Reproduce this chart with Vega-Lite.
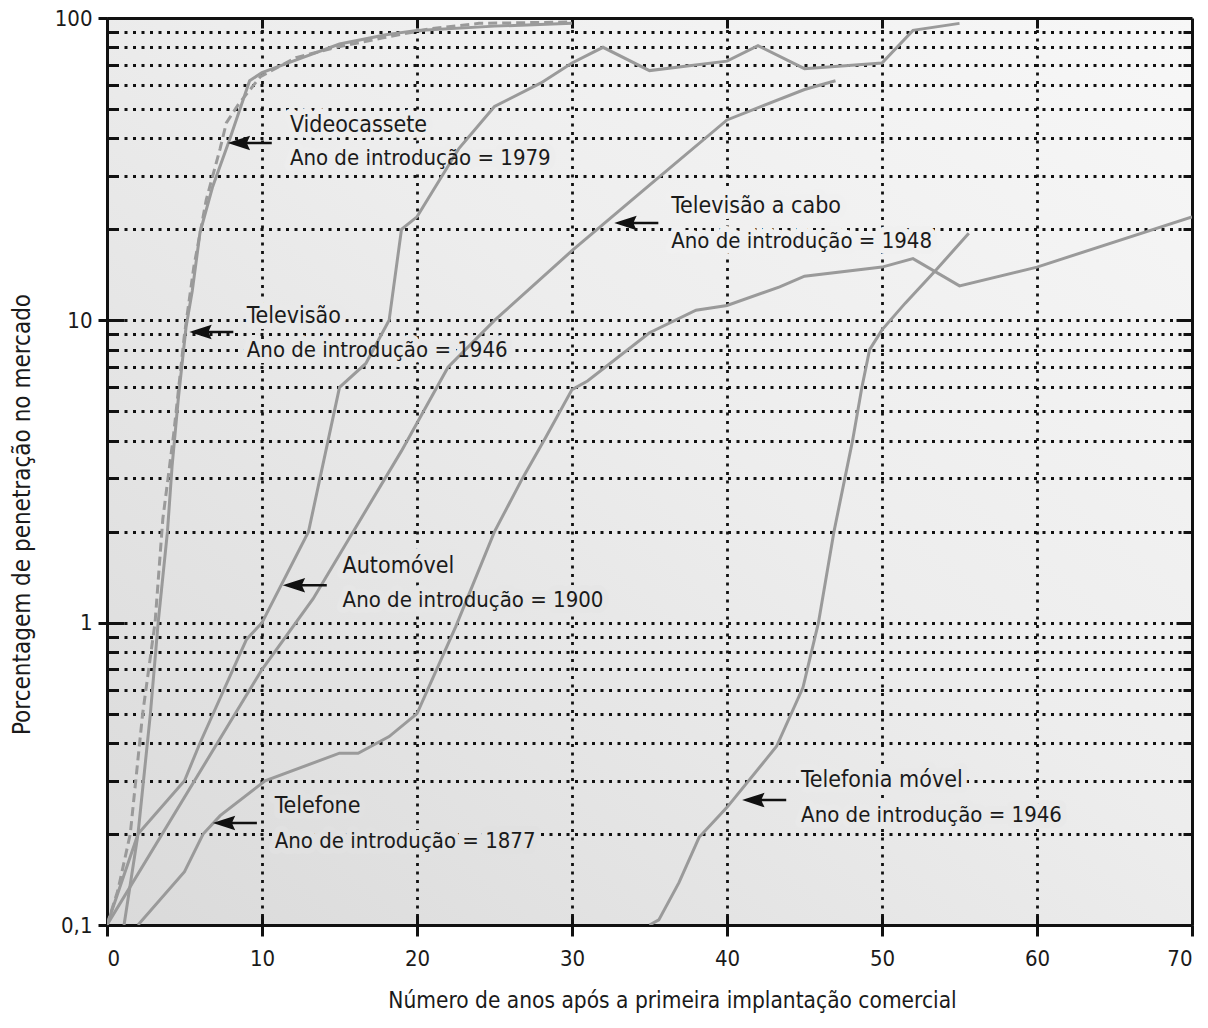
{
  "$schema": "https://vega.github.io/schema/vega-lite/v6.json",
  "width": 1085,
  "height": 907,
  "autosize": {"type": "none"},
  "padding": {"left": 107, "top": 18, "right": 16, "bottom": 103},
  "background": "white",
  "config": {
    "view": {
      "stroke": null,
      "fill": {"gradient": "linear", "x1": 0, "y1": 1, "x2": 1, "y2": 0,
        "stops": [{"offset": 0, "color": "#dadada"}, {"offset": 0.55, "color": "#ededed"}, {"offset": 1, "color": "#f7f7f7"}]}
    },
    "axis": {
      "labelFont": "DejaVu Sans Condensed, Liberation Sans, sans-serif",
      "titleFont": "DejaVu Sans Condensed, Liberation Sans, sans-serif",
      "labelColor": "#1a1a1a",
      "titleColor": "#1a1a1a",
      "domainColor": "#111",
      "tickColor": "#111",
      "gridColor": "#111",
      "gridDash": [3, 5.5],
      "gridWidth": 2.8,
      "gridOpacity": 1,
      "titleFontWeight": "normal"
    },
    "text": {"font": "DejaVu Sans Condensed, Liberation Sans, sans-serif"}
  },
  "datasets": {
    "series": [
      {"serie": "Televisão", "anos": 1.1, "pct": 0.1},
      {"serie": "Televisão", "anos": 2, "pct": 0.2},
      {"serie": "Televisão", "anos": 2.8, "pct": 0.5},
      {"serie": "Televisão", "anos": 3.3, "pct": 1.0},
      {"serie": "Televisão", "anos": 3.9, "pct": 2.0},
      {"serie": "Televisão", "anos": 4.2, "pct": 3.3},
      {"serie": "Televisão", "anos": 4.6, "pct": 5.5},
      {"serie": "Televisão", "anos": 5.1, "pct": 9.5},
      {"serie": "Televisão", "anos": 5.5, "pct": 12.5},
      {"serie": "Televisão", "anos": 6, "pct": 19.5},
      {"serie": "Televisão", "anos": 6.8, "pct": 27.5},
      {"serie": "Televisão", "anos": 7.9, "pct": 39.5},
      {"serie": "Televisão", "anos": 9.2, "pct": 62},
      {"serie": "Televisão", "anos": 10, "pct": 66},
      {"serie": "Televisão", "anos": 12, "pct": 72},
      {"serie": "Televisão", "anos": 15, "pct": 82},
      {"serie": "Televisão", "anos": 18, "pct": 88},
      {"serie": "Televisão", "anos": 20, "pct": 91},
      {"serie": "Televisão", "anos": 25, "pct": 94},
      {"serie": "Televisão", "anos": 30, "pct": 96},

      {"serie": "Automóvel", "anos": 0, "pct": 0.1},
      {"serie": "Automóvel", "anos": 2, "pct": 0.2},
      {"serie": "Automóvel", "anos": 5, "pct": 0.3},
      {"serie": "Automóvel", "anos": 6, "pct": 0.4},
      {"serie": "Automóvel", "anos": 9, "pct": 0.88},
      {"serie": "Automóvel", "anos": 10, "pct": 1.0},
      {"serie": "Automóvel", "anos": 13, "pct": 2.0},
      {"serie": "Automóvel", "anos": 15, "pct": 6.0},
      {"serie": "Automóvel", "anos": 16.7, "pct": 7.2},
      {"serie": "Automóvel", "anos": 18.2, "pct": 10},
      {"serie": "Automóvel", "anos": 19, "pct": 20},
      {"serie": "Automóvel", "anos": 20, "pct": 22},
      {"serie": "Automóvel", "anos": 22.7, "pct": 37},
      {"serie": "Automóvel", "anos": 25, "pct": 51},
      {"serie": "Automóvel", "anos": 28, "pct": 61},
      {"serie": "Automóvel", "anos": 30, "pct": 71},
      {"serie": "Automóvel", "anos": 32, "pct": 80},
      {"serie": "Automóvel", "anos": 35, "pct": 67},
      {"serie": "Automóvel", "anos": 40, "pct": 72},
      {"serie": "Automóvel", "anos": 42, "pct": 81},
      {"serie": "Automóvel", "anos": 45, "pct": 68},
      {"serie": "Automóvel", "anos": 50, "pct": 71},
      {"serie": "Automóvel", "anos": 52, "pct": 91},
      {"serie": "Automóvel", "anos": 55, "pct": 96},

      {"serie": "Televisão a cabo", "anos": 0, "pct": 0.1},
      {"serie": "Televisão a cabo", "anos": 10, "pct": 0.7},
      {"serie": "Televisão a cabo", "anos": 13.3, "pct": 1.2},
      {"serie": "Televisão a cabo", "anos": 19, "pct": 3.7},
      {"serie": "Televisão a cabo", "anos": 22, "pct": 7},
      {"serie": "Televisão a cabo", "anos": 25, "pct": 10},
      {"serie": "Televisão a cabo", "anos": 30, "pct": 17},
      {"serie": "Televisão a cabo", "anos": 35, "pct": 28},
      {"serie": "Televisão a cabo", "anos": 40, "pct": 46},
      {"serie": "Televisão a cabo", "anos": 45, "pct": 58},
      {"serie": "Televisão a cabo", "anos": 47, "pct": 62},

      {"serie": "Telefone", "anos": 2, "pct": 0.1},
      {"serie": "Telefone", "anos": 5, "pct": 0.15},
      {"serie": "Telefone", "anos": 6.2, "pct": 0.2},
      {"serie": "Telefone", "anos": 7.3, "pct": 0.23},
      {"serie": "Telefone", "anos": 10.2, "pct": 0.3},
      {"serie": "Telefone", "anos": 15, "pct": 0.37},
      {"serie": "Telefone", "anos": 16.2, "pct": 0.37},
      {"serie": "Telefone", "anos": 18.2, "pct": 0.42},
      {"serie": "Telefone", "anos": 20, "pct": 0.5},
      {"serie": "Telefone", "anos": 22.5, "pct": 0.97},
      {"serie": "Telefone", "anos": 25, "pct": 2.0},
      {"serie": "Telefone", "anos": 26.8, "pct": 3.0},
      {"serie": "Telefone", "anos": 28.3, "pct": 4.1},
      {"serie": "Telefone", "anos": 30, "pct": 5.9},
      {"serie": "Telefone", "anos": 31, "pct": 6.3},
      {"serie": "Telefone", "anos": 35, "pct": 9.1},
      {"serie": "Telefone", "anos": 38, "pct": 10.8},
      {"serie": "Telefone", "anos": 40, "pct": 11.2},
      {"serie": "Telefone", "anos": 43.4, "pct": 12.9},
      {"serie": "Telefone", "anos": 45, "pct": 14},
      {"serie": "Telefone", "anos": 50, "pct": 15},
      {"serie": "Telefone", "anos": 52, "pct": 16},
      {"serie": "Telefone", "anos": 55, "pct": 13},
      {"serie": "Telefone", "anos": 60, "pct": 15},
      {"serie": "Telefone", "anos": 70, "pct": 22},

      {"serie": "Telefonia móvel", "anos": 35, "pct": 0.1},
      {"serie": "Telefonia móvel", "anos": 35.6, "pct": 0.104},
      {"serie": "Telefonia móvel", "anos": 36.9, "pct": 0.138},
      {"serie": "Telefonia móvel", "anos": 38.2, "pct": 0.195},
      {"serie": "Telefonia móvel", "anos": 40, "pct": 0.245},
      {"serie": "Telefonia móvel", "anos": 43.2, "pct": 0.39},
      {"serie": "Telefonia móvel", "anos": 44.9, "pct": 0.61},
      {"serie": "Telefonia móvel", "anos": 45.9, "pct": 1.0},
      {"serie": "Telefonia móvel", "anos": 46.9, "pct": 2.0},
      {"serie": "Telefonia móvel", "anos": 48.1, "pct": 4.0},
      {"serie": "Telefonia móvel", "anos": 48.7, "pct": 6.0},
      {"serie": "Telefonia móvel", "anos": 49.2, "pct": 8.0},
      {"serie": "Telefonia móvel", "anos": 50, "pct": 9.3},
      {"serie": "Telefonia móvel", "anos": 51.5, "pct": 11.4},
      {"serie": "Telefonia móvel", "anos": 53.5, "pct": 14.7},
      {"serie": "Telefonia móvel", "anos": 55.6, "pct": 19.4},

      {"serie": "Videocassete", "anos": 0, "pct": 0.1},
      {"serie": "Videocassete", "anos": 0.7, "pct": 0.13},
      {"serie": "Videocassete", "anos": 1.5, "pct": 0.2},
      {"serie": "Videocassete", "anos": 2.3, "pct": 0.5},
      {"serie": "Videocassete", "anos": 3.1, "pct": 1.0},
      {"serie": "Videocassete", "anos": 3.6, "pct": 2.2},
      {"serie": "Videocassete", "anos": 4.3, "pct": 4.2},
      {"serie": "Videocassete", "anos": 5, "pct": 9},
      {"serie": "Videocassete", "anos": 5.6, "pct": 15},
      {"serie": "Videocassete", "anos": 6.4, "pct": 25},
      {"serie": "Videocassete", "anos": 7.3, "pct": 37},
      {"serie": "Videocassete", "anos": 7.7, "pct": 45},
      {"serie": "Videocassete", "anos": 8.5, "pct": 52},
      {"serie": "Videocassete", "anos": 9.9, "pct": 64},
      {"serie": "Videocassete", "anos": 12.2, "pct": 74},
      {"serie": "Videocassete", "anos": 14.8, "pct": 80},
      {"serie": "Videocassete", "anos": 17.8, "pct": 86},
      {"serie": "Videocassete", "anos": 20.8, "pct": 92},
      {"serie": "Videocassete", "anos": 24, "pct": 96},
      {"serie": "Videocassete", "anos": 30, "pct": 97}
    ],
    "notas": [
      {"nome": "Videocassete", "intro": "Ano de introdução = 1979", "tx": 11.8, "ty1": 42.0, "ty2": 32.7, "ax": 9.34, "ay": 38.6},
      {"nome": "Televisão", "intro": "Ano de introdução = 1946", "tx": 9.02, "ty1": 9.8, "ty2": 7.57, "ax": 6.86, "ay": 9.15},
      {"nome": "Televisão a cabo", "intro": "Ano de introdução = 1948", "tx": 36.4, "ty1": 22.7, "ty2": 17.4, "ax": 34.28, "ay": 21.0},
      {"nome": "Automóvel", "intro": "Ano de introdução = 1900", "tx": 15.2, "ty1": 1.46, "ty2": 1.13, "ax": 12.89, "ay": 1.33},
      {"nome": "Telefone", "intro": "Ano de introdução = 1877", "tx": 10.82, "ty1": 0.2347, "ty2": 0.1798, "ax": 8.38, "ay": 0.2175},
      {"nome": "Telefonia móvel", "intro": "Ano de introdução = 1946", "tx": 44.78, "ty1": 0.286, "ty2": 0.219, "ax": 42.53, "ay": 0.259}
    ]
  },
  "layer": [
    {
      "data": {"name": "notas"},
      "mark": {"type": "text", "align": "left", "baseline": "alphabetic", "fontSize": 23, "strokeWidth": 12, "strokeJoin": "round"},
      "encoding": {
        "x": {"field": "tx", "type": "quantitative", "scale": {"domain": [0, 70], "nice": false, "zero": false}, "axis": null},
        "y": {"field": "ty1", "type": "quantitative", "scale": {"type": "log", "domain": [0.1, 100], "nice": false}, "axis": null},
        "text": {"field": "nome"},
        "fill": {"field": "nome", "type": "nominal", "legend": null,
          "scale": {"domain": ["Videocassete", "Televisão", "Televisão a cabo", "Automóvel", "Telefone", "Telefonia móvel"],
            "range": ["#ededed", "#e9e9e9", "#f0f0f0", "#e6e6e6", "#e1e1e1", "#e9e9e9"]}},
        "stroke": {"field": "nome", "type": "nominal", "legend": null,
          "scale": {"domain": ["Videocassete", "Televisão", "Televisão a cabo", "Automóvel", "Telefone", "Telefonia móvel"],
            "range": ["#ededed", "#e9e9e9", "#f0f0f0", "#e6e6e6", "#e1e1e1", "#e9e9e9"]}}
      }
    },
    {
      "data": {"name": "notas"},
      "mark": {"type": "text", "align": "left", "baseline": "alphabetic", "fontSize": 22, "strokeWidth": 12, "strokeJoin": "round"},
      "encoding": {
        "x": {"field": "tx", "type": "quantitative", "scale": {"domain": [0, 70], "nice": false, "zero": false}, "axis": null},
        "y": {"field": "ty2", "type": "quantitative", "scale": {"type": "log", "domain": [0.1, 100], "nice": false}, "axis": null},
        "text": {"field": "intro"},
        "fill": {"field": "nome", "type": "nominal", "legend": null,
          "scale": {"domain": ["Videocassete", "Televisão", "Televisão a cabo", "Automóvel", "Telefone", "Telefonia móvel"],
            "range": ["#ededed", "#e9e9e9", "#f0f0f0", "#e6e6e6", "#e1e1e1", "#e9e9e9"]}},
        "stroke": {"field": "nome", "type": "nominal", "legend": null,
          "scale": {"domain": ["Videocassete", "Televisão", "Televisão a cabo", "Automóvel", "Telefone", "Telefonia móvel"],
            "range": ["#ededed", "#e9e9e9", "#f0f0f0", "#e6e6e6", "#e1e1e1", "#e9e9e9"]}}
      }
    },
    {
      "data": {"name": "series"},
      "transform": [{"filter": "datum.serie != 'Videocassete'"}],
      "mark": {"type": "line", "color": "#9a9a9a", "strokeWidth": 3, "clip": true},
      "encoding": {
        "x": {"field": "anos", "type": "quantitative",
          "scale": {"domain": [0, 70], "nice": false, "zero": false},
          "axis": {"orient": "bottom", "values": [0, 10, 20, 30, 40, 50, 60, 70], "tickSize": 11, "tickWidth": 3,
            "domain": true, "domainWidth": 3, "labelFontSize": 22, "labelPadding": 12, "grid": false,
            "title": "Número de anos após a primeira implantação comercial", "titleFontSize": 22.5,
            "titleX": 565, "titleY": 75, "titleAlign": "center", "titleBaseline": "middle"}},
        "y": {"field": "pct", "type": "quantitative",
          "scale": {"type": "log", "domain": [0.1, 100], "nice": false},
          "axis": {"orient": "left", "values": [0.1, 1, 10, 100], "tickSize": 9, "tickWidth": 3,
            "domain": true, "domainWidth": 3, "labelFontSize": 22, "labelPadding": 6, "grid": false,
            "labelExpr": "datum.value < 0.5 ? '0,1' : format(datum.value, 'd')",
            "title": "Porcentagem de penetração no mercado", "titleFontSize": 24,
            "titleX": -85, "titleY": 496, "titleAlign": "center", "titleBaseline": "middle", "titleAngle": -90}},
        "detail": {"field": "serie"}
      }
    },
    {
      "data": {"name": "series"},
      "transform": [{"filter": "datum.serie == 'Videocassete'"}],
      "mark": {"type": "line", "color": "#9a9a9a", "strokeWidth": 3, "strokeDash": [9, 5], "clip": true},
      "encoding": {
        "x": {"field": "anos", "type": "quantitative",
          "scale": {"domain": [0, 70], "nice": false, "zero": false},
          "axis": {"orient": "bottom", "values": [10, 20, 30, 40, 50, 60, 70], "tickSize": -10, "tickWidth": 3,
            "domain": false, "labels": false, "grid": false, "title": null}},
        "y": {"field": "pct", "type": "quantitative",
          "scale": {"type": "log", "domain": [0.1, 100], "nice": false},
          "axis": {"orient": "left", "values": [1, 10, 100], "tickSize": -17, "tickWidth": 3,
            "domain": false, "labels": false, "grid": true, "title": null}},
        "detail": {"field": "serie"}
      }
    },
    {
      "data": {"name": "notas"},
      "mark": {"type": "point", "shape": "M -1 0 L -0.2 -0.26 L -0.32 0 L -0.2 0.26 Z M -0.4 0 L 1 0", "size": 1600,
        "fill": "#111", "stroke": "#111", "strokeWidth": 2.5, "opacity": 1, "filled": true},
      "encoding": {
        "x": {"field": "ax", "type": "quantitative",
          "scale": {"domain": [0, 70], "nice": false, "zero": false},
          "axis": {"orient": "top", "values": [10, 20, 30, 40, 50, 60], "tickSize": -10, "tickWidth": 3,
            "domain": true, "domainWidth": 3, "labels": false, "grid": true, "title": null}},
        "y": {"field": "ay", "type": "quantitative",
          "scale": {"type": "log", "domain": [0.1, 100], "nice": false},
          "axis": {"orient": "left", "values": [0.2, 0.3, 0.4, 0.5, 0.6, 0.7, 0.8, 0.9, 2, 3, 4, 5, 6, 7, 8, 9, 20, 30, 40, 50, 60, 70, 80, 90],
            "tickSize": -11, "tickWidth": 3, "domain": false, "labels": false, "grid": true, "title": null}}
      }
    },
    {
      "data": {"name": "notas"},
      "mark": {"type": "text", "align": "left", "baseline": "alphabetic", "fontSize": 23, "color": "#1a1a1a"},
      "encoding": {
        "x": {"field": "tx", "type": "quantitative",
          "scale": {"domain": [0, 70], "nice": false, "zero": false}, "axis": null},
        "y": {"field": "ty1", "type": "quantitative",
          "scale": {"type": "log", "domain": [0.1, 100], "nice": false},
          "axis": {"orient": "right", "values": [1, 10], "tickSize": -16, "tickWidth": 3,
            "domain": true, "domainWidth": 3, "labels": false, "grid": false, "title": null}},
        "text": {"field": "nome"}
      }
    },
    {
      "data": {"name": "notas"},
      "mark": {"type": "text", "align": "left", "baseline": "alphabetic", "fontSize": 22, "color": "#1a1a1a"},
      "encoding": {
        "x": {"field": "tx", "type": "quantitative",
          "scale": {"domain": [0, 70], "nice": false, "zero": false}, "axis": null},
        "y": {"field": "ty2", "type": "quantitative",
          "scale": {"type": "log", "domain": [0.1, 100], "nice": false},
          "axis": {"orient": "right", "values": [0.2, 0.3, 0.4, 0.5, 0.6, 0.7, 0.8, 0.9, 2, 3, 4, 5, 6, 7, 8, 9, 20, 30, 40, 50, 60, 70, 80, 90],
            "tickSize": -9, "tickWidth": 3, "domain": false, "labels": false, "grid": false, "title": null}},
        "text": {"field": "intro"}
      }
    }
  ],
  "resolve": {"axis": {"x": "independent", "y": "independent"}, "scale": {"fill": "shared", "stroke": "shared"}}
}
